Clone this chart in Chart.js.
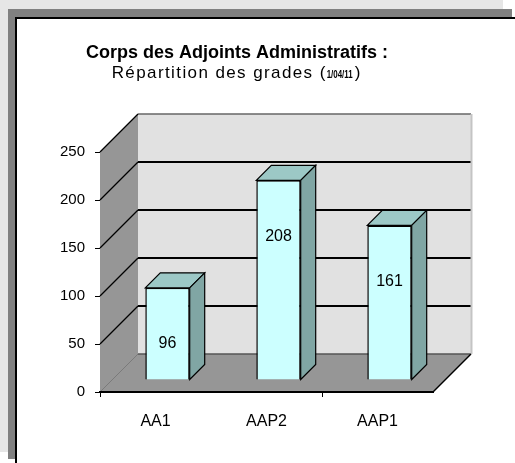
<!DOCTYPE html>
<html><head><meta charset="utf-8">
<script src="https://cdn.jsdelivr.net/npm/chart.js@4.4.1/dist/chart.umd.min.js"></script>
<style>html,body{margin:0;padding:0;background:#fff;overflow:hidden}canvas{display:block}</style>
</head><body>
<canvas id="c" width="515" height="463"></canvas>
<script>
// ---- data ----
const categories = ['AA1', 'AAP2', 'AAP1'];
const values = [96, 208, 161];
const yTickValues = [0, 50, 100, 150, 200, 250];
const titleLine1 = 'Corps des Adjoints Administratifs :';
const titleLine2 = 'Répartition des grades (';
const titleDate = '1/04/11';
const titleClose = ')';

// ---- font detection ----
function hasFont(name) {
  const c = document.createElement('canvas').getContext('2d');
  const s = 'AAP2 250 mmwwii';
  c.font = '18px monospace'; const a = c.measureText(s).width;
  c.font = '18px "' + name + '", monospace'; const b = c.measureText(s).width;
  return Math.abs(a - b) > 0.5;
}
const NARROW = hasFont('Liberation Sans Narrow');
const FAM = NARROW ? '"Liberation Sans Narrow", "Liberation Sans", Arial, sans-serif' : '"Liberation Sans", Arial, sans-serif';
const SZ_Y = NARROW ? 17 : 15;
const SZ_X = NARROW ? 18 : 16;
const SZ_L = NARROW ? 18 : 16;

// ---- 3D styling ----
const WALL_DEPTH = 38;
const BAR_SHIFT = 12;
const BAR_DEPTH = 15;
const COL_WALL = '#e1e1e1';
const COL_SIDEWALL = '#969696';
const COL_FRONT = '#ccffff';
const COL_TOP = '#9cc8c6';
const COL_SIDE = '#80a6a4';

function poly(ctx, pts, fill, stroke, lw) {
  ctx.beginPath();
  ctx.moveTo(pts[0][0], pts[0][1]);
  for (let i = 1; i < pts.length; i++) ctx.lineTo(pts[i][0], pts[i][1]);
  ctx.closePath();
  if (fill) { ctx.fillStyle = fill; ctx.fill(); }
  if (stroke) { ctx.strokeStyle = stroke; ctx.lineWidth = lw || 1; ctx.stroke(); }
}
function line(ctx, x1, y1, x2, y2, col, lw) {
  ctx.beginPath(); ctx.moveTo(x1, y1); ctx.lineTo(x2, y2);
  ctx.strokeStyle = col; ctx.lineWidth = lw; ctx.stroke();
}

const frame3d = {
  id: 'frame3d',
  beforeDraw(chart) {
    const ctx = chart.ctx;
    ctx.save();
    // page frame with shadow
    ctx.fillStyle = '#fff'; ctx.fillRect(0, 0, 515, 463);
    ctx.fillStyle = '#e6e6e6'; ctx.fillRect(0, 0, 503, 452);
    ctx.fillStyle = '#808080'; ctx.fillRect(8, 9, 504, 450);
    ctx.fillStyle = '#000'; ctx.fillRect(15, 17, 500, 446);
    ctx.fillStyle = '#fff'; ctx.fillRect(17, 19, 498, 444);

    // titles
    ctx.fillStyle = '#000';
    ctx.textBaseline = 'alphabetic';
    ctx.textAlign = 'center';
    ctx.font = 'bold 18px "Liberation Sans", Arial, sans-serif';
    ctx.fillText(titleLine1, 237, 58);
    ctx.textAlign = 'left';
    ctx.font = '17px "Liberation Sans", Arial, sans-serif';
    ctx.letterSpacing = '1.4px';
    const w1 = ctx.measureText(titleLine2).width;
    ctx.letterSpacing = '0px';
    ctx.font = 'bold 11px "Liberation Sans", Arial, sans-serif';
    const w2 = ctx.measureText(titleDate).width * 0.72;
    ctx.font = '17px "Liberation Sans", Arial, sans-serif';
    const w3 = ctx.measureText(titleClose).width;
    let x = 236 - (w1 + w2 + 2 + w3) / 2;
    ctx.letterSpacing = '1.4px';
    ctx.fillText(titleLine2, x, 78);
    ctx.letterSpacing = '0px';
    x += w1;
    ctx.save();
    ctx.translate(x, 78); ctx.scale(0.72, 1);
    ctx.font = 'bold 11px "Liberation Sans", Arial, sans-serif';
    ctx.fillText(titleDate, 0, 0);
    ctx.restore();
    x += w2 + 2;
    ctx.font = '17px "Liberation Sans", Arial, sans-serif';
    ctx.fillText(titleClose, x, 78);

    // walls
    const xs = chart.scales.x, ys = chart.scales.y;
    const L = xs.left, R = xs.right;
    const y0 = ys.getPixelForValue(ys.min), yT = ys.getPixelForValue(ys.max);
    const D = WALL_DEPTH;
    poly(ctx, [[L + D, yT - D], [R + D, yT - D], [R + D, y0 - D], [L + D, y0 - D]], COL_WALL);
    poly(ctx, [[L, y0], [L, yT], [L + D, yT - D], [L + D, y0 - D]], COL_SIDEWALL);
    poly(ctx, [[L, y0], [R, y0], [R + D, y0 - D], [L + D, y0 - D]], COL_SIDEWALL);
    // gridlines
    ys.ticks.forEach(t => {
      const y = ys.getPixelForValue(t.value);
      if (t.value === ys.min) {
        line(ctx, L + D, y - D, R + D, y - D, '#555', 1.5);
        line(ctx, L, y, L + D, y - D, '#7a7a7a', 1);
        return;
      }
      const top = t.value === ys.max;
      line(ctx, L + D, y - D, R + D, y - D, top ? '#666' : '#000', top ? 1.5 : 2);
      line(ctx, L, y, L + D, y - D, '#000', 1.3);
    });
    line(ctx, R + D + 0.5, yT - D, R + D + 0.5, y0 - D, '#c4c4c4', 2);
    line(ctx, R, y0, R + D, y0 - D, '#000', 1.5);
    ctx.restore();
  },
  beforeDatasetsDraw(chart) {
    chart.ctx.save();
    chart.ctx.translate(BAR_SHIFT, -BAR_SHIFT);
  },
  afterDatasetsDraw(chart) {
    const ctx = chart.ctx;
    ctx.restore();
    ctx.save();
    const meta = chart.getDatasetMeta(0);
    const d = BAR_DEPTH, s = BAR_SHIFT;
    meta.data.forEach((el, i) => {
      const p = el.getProps(['x', 'y', 'base', 'width'], true);
      const xl = p.x - p.width / 2 + s, xr = p.x + p.width / 2 + s;
      const yt = p.y - s, yb = p.base - s;
      poly(ctx, [[xl, yt], [xr, yt], [xr + d, yt - d], [xl + d, yt - d]], COL_TOP, '#000', 1.2);
      poly(ctx, [[xr, yt], [xr + d, yt - d], [xr + d, yb - d], [xr, yb]], COL_SIDE, '#000', 1.2);
      // label
      ctx.fillStyle = '#000';
      ctx.font = SZ_L + 'px ' + FAM;
      ctx.textAlign = 'center';
      ctx.textBaseline = 'middle';
      ctx.fillText(String(values[i]), p.x + s, yt + 56);
    });
    ctx.restore();
  }
};

new Chart(document.getElementById('c'), {
  type: 'bar',
  data: {
    labels: categories,
    datasets: [{
      data: values,
      backgroundColor: COL_FRONT,
      borderColor: '#000',
      borderWidth: 1.5,
      categoryPercentage: 1,
      barPercentage: 0.4,
      clip: false
    }]
  },
  options: {
    responsive: false,
    animation: false,
    devicePixelRatio: 1,
    layout: { padding: { left: 0, top: 152, right: 82, bottom: 0 } },
    plugins: { legend: { display: false }, title: { display: false }, tooltip: { enabled: false } },
    scales: {
      x: {
        afterFit(scale) { scale.height = 71; },
        grid: {
          drawOnChartArea: false, drawTicks: true, tickLength: 5, offset: true,
          color: ctx => (ctx.index === 0 || ctx.index === 2) ? '#000' : 'rgba(0,0,0,0)'
        },
        border: { display: true, color: '#000', width: 2 },
        ticks: { color: '#000', font: { family: FAM, size: SZ_X }, padding: 15, maxRotation: 0 }
      },
      y: {
        min: 0, max: 250,
        afterFit(scale) { scale.width = 100; },
        afterBuildTicks(scale) { scale.ticks = yTickValues.map(v => ({ value: v })); },
        grid: { drawOnChartArea: false, drawTicks: true, tickLength: 5, color: '#000' },
        border: { display: false },
        ticks: { color: '#000', font: { family: FAM, size: SZ_Y }, padding: 10 }
      }
    }
  },
  plugins: [frame3d]
});
</script>
</body></html>
